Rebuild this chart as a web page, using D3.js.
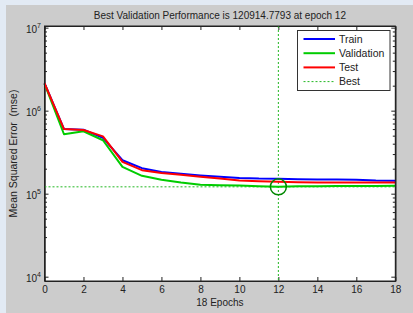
<!DOCTYPE html>
<html>
<head>
<meta charset="utf-8">
<title>best validation performance</title>
<script src="https://d3js.org/d3.v7.min.js"></script>
<style>
body { margin: 0; background: #e2eaf4; }
svg { display: block; font-family: "Liberation Sans", Arial, sans-serif; }
.axis path { stroke: #222; }
.axis line { stroke: #222; }
.axis text { fill: #222; font-size: 10px; }
</style>
</head>
<body>
<svg id="chart" width="413" height="313"></svg>
<script>
// epochs and mse per data set
var epochs = [0, 1, 2, 3, 4, 5, 6, 7, 8, 9, 10, 11, 12, 13, 14, 15, 16, 17, 18];
var train = [2.14e6, 6.0e5, 5.9e5, 4.7e5, 2.53e5, 2.03e5, 1.82e5, 1.74e5, 1.66e5, 1.60e5, 1.55e5, 1.52e5, 1.51e5, 1.49e5, 1.48e5, 1.48e5, 1.47e5, 1.44e5, 1.43e5];
var validation = [2.12e6, 5.2e5, 5.65e5, 4.4e5, 2.1e5, 1.64e5, 1.47e5, 1.36e5, 1.28e5, 1.265e5, 1.255e5, 1.23e5, 120914.7793, 1.225e5, 1.23e5, 1.235e5, 1.24e5, 1.24e5, 1.245e5];
var test = [2.14e6, 6.0e5, 5.85e5, 4.9e5, 2.42e5, 1.92e5, 1.78e5, 1.69e5, 1.60e5, 1.52e5, 1.44e5, 1.41e5, 1.39e5, 1.37e5, 1.36e5, 1.36e5, 1.36e5, 1.36e5, 1.36e5];
var bestEpoch = 12;
var bestPerf = 120914.7793;

var xTicks = [0, 2, 4, 6, 8, 10, 12, 14, 16, 18];
var yMajor = [1e4, 1e5, 1e6, 1e7];
var legendNames = ["Train", "Validation", "Test", "Best"];

var svg = d3.select("#chart");

// gray figure background
svg.append("rect").attr("x", 6).attr("y", 5).attr("width", 407).attr("height", 308).attr("fill", "#cccccc");

// (don't call it "top", that's window.top)
var pLeft = 44.5, pRight = 395.3, pTop = 26, pBottom = 281;

var x = d3.scaleLinear().domain([0, 18]).range([pLeft, pRight]);
var y = d3.scaleLog().domain([Math.pow(10, 3.948), Math.pow(10, 7.02)]).range([pBottom, pTop]);

svg.append("rect")
	.attr("x", pLeft).attr("y", pTop)
	.attr("width", pRight - pLeft).attr("height", pBottom - pTop)
	.attr("fill", "white");

// minor ticks 2..9 of each decade
var yMinor = [];
[1e4, 1e5, 1e6].forEach(function(d){
	for(var k = 2; k < 10; k++) yMinor.push(d * k);
});

// axes, ticks pointing inward
svg.append("g").attr("class", "axis")
	.attr("transform", "translate(0," + pBottom + ")")
	.call(d3.axisBottom(x).tickValues(xTicks).tickSizeInner(-4).tickSizeOuter(0).tickPadding(5));
svg.append("g").attr("class", "axis")
	.attr("transform", "translate(0," + pTop + ")")
	.call(d3.axisTop(x).tickValues(xTicks).tickSizeInner(-4).tickSizeOuter(0).tickFormat(""));

var yl = svg.append("g").attr("class", "axis")
	.attr("transform", "translate(" + pLeft + ",0)")
	.call(d3.axisLeft(y).tickValues(yMajor).tickSizeInner(-4).tickSizeOuter(0).tickPadding(3.5).tickFormat(""));
yl.selectAll(".tick text").each(function(d){
	var t = d3.select(this);
	t.text("10").attr("dy", "0.45em");
	t.append("tspan").attr("dy", "-0.6em").attr("font-size", "7px").text(Math.round(Math.log10(d)));
});
svg.append("g").attr("class", "axis")
	.attr("transform", "translate(" + pLeft + ",0)")
	.call(d3.axisLeft(y).tickValues(yMinor).tickSizeInner(-2.5).tickSizeOuter(0).tickFormat(""));
svg.append("g").attr("class", "axis")
	.attr("transform", "translate(" + pRight + ",0)")
	.call(d3.axisRight(y).tickValues(yMajor).tickSizeInner(-4).tickSizeOuter(0).tickFormat(""));
svg.append("g").attr("class", "axis")
	.attr("transform", "translate(" + pRight + ",0)")
	.call(d3.axisRight(y).tickValues(yMinor).tickSizeInner(-2.5).tickSizeOuter(0).tickFormat(""));

// best markers
var bestColor = "#22b822";
svg.append("line")
	.attr("x1", x(bestEpoch)).attr("x2", x(bestEpoch))
	.attr("y1", pTop).attr("y2", pBottom)
	.attr("stroke", bestColor).attr("stroke-width", 1).attr("stroke-dasharray", "2,2");
svg.append("line")
	.attr("x1", pLeft).attr("x2", pRight)
	.attr("y1", y(bestPerf)).attr("y2", y(bestPerf))
	.attr("stroke", bestColor).attr("stroke-width", 1).attr("stroke-dasharray", "2,2");

var line = d3.line()
	.x(function(d, i){ return x(epochs[i]); })
	.y(function(d){ return y(d); });

var series = [
	{ values: train, color: "#0000ff" },
	{ values: validation, color: "#00cc00" },
	{ values: test, color: "#ff0000" }
];
series.forEach(function(s){
	svg.append("path")
		.datum(s.values)
		.attr("d", line)
		.attr("fill", "none")
		.attr("stroke", s.color)
		.attr("stroke-width", 2)
		.attr("stroke-linejoin", "round");
});

svg.append("circle")
	.attr("cx", x(bestEpoch)).attr("cy", y(bestPerf)).attr("r", 8)
	.attr("fill", "none").attr("stroke", "#008800").attr("stroke-width", 1.5);

// frame on top
svg.append("rect")
	.attr("x", pLeft).attr("y", pTop)
	.attr("width", pRight - pLeft).attr("height", pBottom - pTop)
	.attr("fill", "none").attr("stroke", "#222").attr("stroke-width", 1);

// legend
var lg = svg.append("g").attr("transform", "translate(297.5,30.5)");
lg.append("rect").attr("width", 92.5).attr("height", 60)
	.attr("fill", "white").attr("stroke", "#333").attr("stroke-width", 1);
var legendColors = ["#0000ff", "#00cc00", "#ff0000", bestColor];
legendNames.forEach(function(name, i){
	var yy = 8.5 + i * 14.2;
	lg.append("line")
		.attr("x1", 6).attr("x2", 37.5).attr("y1", yy).attr("y2", yy)
		.attr("stroke", legendColors[i])
		.attr("stroke-width", i < 3 ? 2 : 1)
		.attr("stroke-dasharray", i < 3 ? null : "2,2");
	lg.append("text")
		.attr("x", 41.5).attr("y", yy).attr("dy", "0.35em")
		.attr("font-size", "10.5px").attr("fill", "#222")
		.text(name);
});

// title and axis labels
svg.append("text")
	.attr("x", (pLeft + pRight) / 2).attr("y", 19)
	.attr("text-anchor", "middle").attr("font-size", "10px").attr("fill", "#222")
	.text("Best Validation Performance is " + bestPerf.toFixed(4) + " at epoch " + bestEpoch);
svg.append("text")
	.attr("x", (pLeft + pRight) / 2).attr("y", 306)
	.attr("text-anchor", "middle").attr("font-size", "10px").attr("fill", "#222")
	.text(epochs[epochs.length - 1] + " Epochs");
svg.append("text")
	.attr("transform", "translate(17," + ((pTop + pBottom) / 2) + ") rotate(-90)")
	.attr("text-anchor", "middle").attr("font-size", "10.5px").attr("fill", "#222")
	.attr("xml:space", "preserve")
	.text("Mean Squared Error  (mse)");
</script>
</body>
</html>
